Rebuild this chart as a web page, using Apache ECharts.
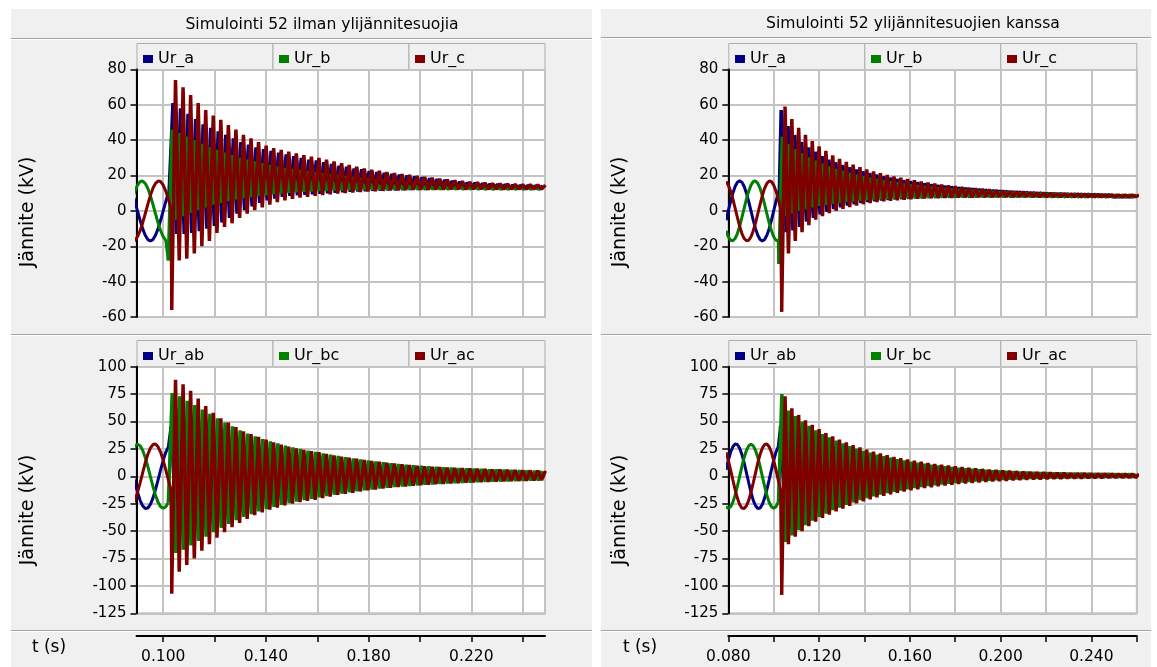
<!DOCTYPE html>
<html>
<head>
<meta charset="utf-8">
<title>Simulointi 52</title>
<script src="https://cdn.jsdelivr.net/npm/echarts@6/dist/echarts.min.js"></script>
<style>
  html, body { margin: 0; padding: 0; background: #fff; }
  #chart { width: 1157px; height: 667px; }
</style>
</head>
<body>
<div id="chart"></div>
<script>
// ---- data (kV) ----
// steady state before the switching, 1 ms samples
var tPre = [0.079, 0.080, 0.081, 0.082, 0.083, 0.084, 0.085, 0.086, 0.087, 0.088, 0.089, 0.090, 0.091,
  0.092, 0.093, 0.094, 0.095, 0.096, 0.097, 0.098, 0.099, 0.100, 0.101, 0.102, 0.103, 0.104];
var preUa = [-5.3, 0, 5.3, 10, 13.8, 16.2, 17, 16.2, 13.8, 10, 5.3, 0, -5.3, -10, -13.8, -16.2, -17, -16.2, -13.8, -10, -5.3, 0, 5.3, 10, 13.8, 16.2];
var preUb = [-11.2, -14.6, -16.6, -16.9, -15.6, -12.8, -8.7, -3.7, 1.6, 6.8, 11.2, 14.6, 16.6, 16.9, 15.6, 12.8, 8.7, 3.7, -1.6, -6.8, -11.2, -14.6, -16.6, -16.9, -15.6, -12.8];
var preUc = [16.6, 14.6, 11.2, 6.8, 1.6, -3.7, -8.7, -12.8, -15.6, -16.9, -16.6, -14.6, -11.2, -6.8, -1.6, 3.7, 8.7, 12.8, 15.6, 16.9, 16.6, 14.6, 11.2, 6.8, 1.6, -3.7];
var preUab = [5.9, 14.6, 21.9, 26.9, 29.4, 29, 25.7, 19.9, 12.2, 3.2, -5.9, -14.6, -21.9, -26.9, -29.4, -29, -25.7, -19.9, -12.2, -3.2, 5.9, 14.6, 21.9, 26.9, 29.4, 29];
var preUbc = [-27.8, -29.2, -27.8, -23.7, -17.2, -9.1, 0, 9.1, 17.2, 23.7, 27.8, 29.2, 27.8, 23.7, 17.2, 9.1, 0, -9.1, -17.2, -23.7, -27.8, -29.2, -27.8, -23.7, -17.2, -9.1];
var preUac = [21.9, 14.6, 5.9, -3.2, -12.2, -19.9, -25.7, -29, -29.4, -26.9, -21.9, -14.6, -5.9, 3.2, 12.2, 19.9, 25.7, 29, 29.4, 26.9, 21.9, 14.6, 5.9, -3.2, -12.2, -19.9];

// transient: peaks (hi) and troughs (lo), one per oscillation period
var periodL = 0.00294;
var periodR = 0.0030;

// Simulointi 52 ilman ylijännitesuojia
var lUaHi = [61, 58, 55, 52, 49, 47, 45, 43, 41, 39, 37.5, 36, 35, 34, 33, 32, 31, 30, 29, 28.5, 27.5, 26.5, 25.5, 25, 24, 23.5, 22.5, 22, 21.5, 21, 20.5, 20, 19.5, 19, 18.5, 18, 17.5, 17, 16.5, 16, 15.8, 15.5, 15.2, 15, 14.8, 14.6, 14.4, 14.3, 14.2, 14.1];
var lUaLo = [11, -13, -13, -12.5, -11.5, -10, -8.5, -6.5, -4, -1.5, 0.5, 2.5, 4.5, 6, 7, 8, 8.5, 8.8, 9.1, 9.4, 9.7, 10, 10.3, 10.6, 10.8, 11, 11.2, 11.4, 11.5, 11.6, 11.7, 11.8, 11.9, 12, 12, 12.1, 12.1, 12.2, 12.2, 12.2, 12.3, 12.3, 12.3, 12.3, 12.4, 12.4, 12.4, 12.4, 12.4, 12.4];
var lUbHi = [46, 44, 42, 40, 38, 36, 34.5, 33, 31.5, 30, 29, 28, 27, 26, 25, 24.3, 23.6, 23, 22.4, 21.8, 21.2, 20.6, 20, 19.5, 19, 18.5, 18, 17.6, 17.2, 16.8, 16.4, 16.1, 15.8, 15.5, 15.2, 15, 14.8, 14.6, 14.4, 14.2, 14.1, 14, 13.9, 13.8, 13.7, 13.6, 13.5, 13.4, 13.4, 13.3];
var lUbLo = [-28, -5, -3, -1, 0.5, 2, 3.5, 4.5, 5.5, 6.5, 7.2, 7.9, 8.5, 9, 9.5, 9.9, 10.3, 10.6, 10.9, 11.1, 11.3, 11.5, 11.6, 11.7, 11.8, 11.9, 12, 12, 12.1, 12.1, 12.2, 12.2, 12.2, 12.3, 12.3, 12.3, 12.3, 12.3, 12.4, 12.4, 12.4, 12.4, 12.4, 12.4, 12.4, 12.4, 12.4, 12.4, 12.4, 12.4];
var lUcHi = [74, 70, 65.5, 61, 57, 54, 51.5, 48.5, 46, 43, 41, 39, 37, 35.5, 34.5, 33.5, 32.5, 31.5, 30.7, 30, 29, 28, 27, 26, 25, 24, 23.3, 22.7, 22, 21.4, 20.8, 20.3, 19.8, 19.2, 18.7, 18.2, 17.7, 17.2, 16.8, 16.4, 16.1, 15.8, 15.6, 15.4, 15.2, 15, 14.9, 14.8, 14.7, 14.6];
var lUcLo = [-56, -28, -27, -24, -20, -17, -12.5, -9, -7, -4, -1.5, 0.5, 2, 3.5, 5, 6, 6.8, 7.5, 8, 8.5, 9, 9.4, 9.8, 10.1, 10.4, 10.7, 11, 11.2, 11.4, 11.6, 11.7, 11.8, 11.9, 12, 12, 12.1, 12.1, 12.2, 12.2, 12.2, 12.3, 12.3, 12.3, 12.3, 12.3, 12.4, 12.4, 12.4, 12.4, 12.4];
var lUabHi = [45, 20, 17, 15, 13, 11.5, 10, 9, 8, 7, 6.3, 5.6, 5, 4.5, 4, 3.6, 3.3, 3, 2.7, 2.5, 2.3, 2.1, 1.9, 1.8, 1.7, 1.6, 1.5, 1.4, 1.3, 1.2, 1.2, 1.1, 1.1, 1, 1, 1, 1, 1, 1, 1, 1, 1, 1, 1, 1, 1, 1, 1, 1, 1];
var lUabLo = [-15, -13, -11.5, -10, -9, -8, -7, -6, -5.3, -4.6, -4, -3.5, -3, -2.6, -2.3, -2, -1.8, -1.6, -1.4, -1.2, -1, -0.9, -0.8, -0.7, -0.6, -0.5, -0.5, -0.5, -0.5, -0.5, -0.5, -0.5, -0.5, -0.5, -0.5, -0.5, -0.5, -0.5, -0.5, -0.5, -0.5, -0.5, -0.5, -0.5, -0.5, -0.5, -0.5, -0.5, -0.5, -0.5];
var lUbcHi = [76, 73, 69, 65, 61, 57, 53, 49, 45.5, 42, 39, 36.5, 34, 32, 30, 28, 26.5, 25, 23.5, 22.2, 21, 19.7, 18.5, 17.4, 16.4, 15.4, 14.5, 13.6, 12.8, 12, 11.3, 10.6, 10, 9.5, 9, 8.6, 8.2, 7.8, 7.5, 7.2, 6.9, 6.6, 6.3, 6.1, 5.9, 5.6, 5.4, 5.2, 5, 4.8];
var lUbcLo = [-24, -70, -67, -63, -59, -55, -51, -47, -43.5, -40, -37, -34.5, -32, -30, -28, -26, -24.5, -23, -21.7, -20.5, -19.3, -18, -16.8, -15.7, -14.7, -13.7, -12.8, -12, -11.2, -10.5, -9.8, -9.2, -8.7, -8.2, -7.7, -7.3, -6.9, -6.5, -6.2, -5.9, -5.6, -5.3, -5, -4.8, -4.6, -4.4, -4.2, -4, -3.8, -3.6];
var lUacHi = [88, 84, 78, 71, 64, 58, 53, 49, 45, 41, 38.5, 36, 33.5, 31, 29, 27, 25.5, 24, 23, 22, 20.5, 19, 18, 17, 16, 15, 14, 13.2, 12.4, 11.6, 10.9, 10.2, 9.5, 9.1, 8.7, 8.3, 8, 7.7, 7.4, 7.1, 6.8, 6.6, 6.3, 6.1, 5.9, 5.7, 5.5, 5.3, 5.1, 5];
var lUacLo = [-107, -87, -81, -75, -68, -62, -56, -51, -46.5, -42.5, -39, -35.5, -33, -30.5, -28.5, -26.5, -25, -23.5, -22.5, -21.5, -20, -18.5, -17, -16, -15, -13.8, -12.8, -12, -11.2, -10.5, -9.8, -9.2, -8.6, -8.1, -7.6, -7.2, -6.8, -6.4, -6.1, -5.8, -5.5, -5.2, -5, -4.7, -4.5, -4.3, -4.1, -3.9, -3.7, -3.5];

// Simulointi 52 ylijännitesuojien kanssa
var rUaHi = [57, 48, 43, 39, 36, 33.5, 31, 29, 27.5, 26, 24.7, 23.5, 22.4, 21.4, 20.5, 19.6, 18.8, 18.1, 17.4, 16.8, 16.2, 15.6, 15.1, 14.6, 14.2, 13.8, 13.4, 13, 12.7, 12.4, 12.1, 11.8, 11.5, 11.3, 11.1, 10.9, 10.7, 10.5, 10.3, 10.1, 10, 9.9, 9.8, 9.7, 9.6, 9.5, 9.4, 9.3, 9.2, 9.1, 9, 9, 9];
var rUaLo = [12, -12, -11, -9, -6, -4, -2, -0.5, 1, 2, 3, 3.8, 4.5, 5, 5.5, 5.9, 6.2, 6.5, 6.7, 6.9, 7.1, 7.2, 7.3, 7.4, 7.5, 7.6, 7.6, 7.7, 7.7, 7.8, 7.8, 7.8, 7.9, 7.9, 7.9, 7.9, 8, 8, 8, 8, 8, 8, 8, 8, 8, 8, 8, 8, 8, 8, 8, 8, 8];
var rUbHi = [42, 38, 35, 32.5, 30.3, 28.4, 26.7, 25.2, 23.8, 22.6, 21.5, 20.5, 19.6, 18.8, 18, 17.3, 16.7, 16.1, 15.5, 15, 14.5, 14, 13.6, 13.2, 12.8, 12.5, 12.2, 11.9, 11.6, 11.3, 11.1, 10.9, 10.7, 10.5, 10.3, 10.1, 10, 9.9, 9.8, 9.7, 9.6, 9.5, 9.4, 9.3, 9.2, 9.1, 9, 9, 9, 9, 8.9, 8.9, 8.9];
var rUbLo = [-30, -3, -1.5, 0, 1, 2, 2.8, 3.5, 4.1, 4.6, 5.1, 5.5, 5.9, 6.2, 6.5, 6.7, 6.9, 7.1, 7.2, 7.3, 7.4, 7.5, 7.6, 7.7, 7.7, 7.8, 7.8, 7.8, 7.9, 7.9, 7.9, 8, 8, 8, 8, 8, 8, 8, 8, 8, 8, 8, 8, 8, 8, 8, 8, 8, 8, 8, 8, 8, 8];
var rUcHi = [59, 52, 47, 43, 39.5, 36.5, 34, 31.5, 29.5, 27.7, 26.2, 24.8, 23.5, 22.4, 21.4, 20.4, 19.5, 18.7, 18, 17.3, 16.6, 16, 15.4, 14.9, 14.4, 13.9, 13.5, 13.1, 12.7, 12.4, 12.1, 11.8, 11.5, 11.2, 11, 10.8, 10.6, 10.4, 10.2, 10, 9.9, 9.8, 9.7, 9.6, 9.5, 9.4, 9.3, 9.2, 9.1, 9, 9, 9, 9];
var rUcLo = [-57, -24, -17, -12, -8, -5, -3, -1.3, 0, 1.2, 2.2, 3, 3.8, 4.4, 5, 5.4, 5.8, 6.1, 6.4, 6.7, 6.9, 7.1, 7.2, 7.3, 7.4, 7.5, 7.6, 7.7, 7.7, 7.8, 7.8, 7.8, 7.9, 7.9, 7.9, 8, 8, 8, 8, 8, 8, 8, 8, 8, 8, 8, 8, 8, 8, 8, 8, 8, 8];
var rUabHi = [46, 18, 15, 13, 11.5, 10, 9, 8, 7, 6.2, 5.5, 4.9, 4.4, 3.9, 3.5, 3.1, 2.8, 2.5, 2.3, 2.1, 1.9, 1.8, 1.7, 1.6, 1.5, 1.4, 1.3, 1.2, 1.2, 1.1, 1.1, 1, 1, 1, 1, 1, 1, 1, 1, 1, 1, 1, 1, 1, 1, 1, 1, 1, 1, 1, 1, 1, 1];
var rUabLo = [-14, -12, -10.5, -9, -8, -7, -6, -5.2, -4.5, -3.9, -3.4, -3, -2.6, -2.3, -2, -1.8, -1.6, -1.4, -1.2, -1, -0.9, -0.8, -0.7, -0.6, -0.5, -0.5, -0.5, -0.5, -0.5, -0.5, -0.5, -0.5, -0.5, -0.5, -0.5, -0.5, -0.5, -0.5, -0.5, -0.5, -0.5, -0.5, -0.5, -0.5, -0.5, -0.5, -0.5, -0.5, -0.5, -0.5, -0.5, -0.5, -0.5];
var rUbcHi = [75, 60, 55, 50, 46, 42, 38.5, 35.5, 32.5, 30, 27.5, 25.3, 23.3, 21.5, 19.8, 18.3, 16.9, 15.6, 14.4, 13.3, 12.3, 11.4, 10.5, 9.7, 9, 8.3, 7.7, 7.1, 6.6, 6.1, 5.7, 5.3, 4.9, 4.6, 4.3, 4, 3.8, 3.6, 3.4, 3.2, 3, 2.9, 2.8, 2.7, 2.6, 2.5, 2.4, 2.3, 2.2, 2.1, 2, 2, 2];
var rUbcLo = [-24, -60, -54, -49, -44.5, -40.5, -37, -34, -31, -28.5, -26, -23.8, -21.8, -20, -18.3, -16.8, -15.4, -14.1, -12.9, -11.8, -10.8, -9.8, -8.9, -8.1, -7.4, -6.7, -6.1, -5.5, -5, -4.5, -4.1, -3.7, -3.3, -3, -2.7, -2.4, -2.2, -2, -1.8, -1.6, -1.4, -1.3, -1.2, -1.1, -1, -0.9, -0.8, -0.7, -0.6, -0.5, -0.5, -0.5, -0.5];
var rUacHi = [73, 62, 56, 51, 47, 43, 39.5, 36.5, 33.5, 31, 28.5, 26.3, 24.3, 22.5, 20.8, 19.2, 17.8, 16.5, 15.3, 14.2, 13.2, 12.2, 11.3, 10.5, 9.7, 9, 8.3, 7.7, 7.1, 6.6, 6.1, 5.7, 5.3, 4.9, 4.6, 4.3, 4, 3.8, 3.6, 3.4, 3.2, 3, 2.9, 2.8, 2.7, 2.6, 2.5, 2.4, 2.3, 2.2, 2.1, 2, 2];
var rUacLo = [-108, -62, -55, -50, -45.5, -41.5, -38, -35, -32, -29.5, -27, -24.8, -22.8, -21, -19.3, -17.8, -16.4, -15.1, -13.9, -12.8, -11.8, -10.8, -9.9, -9.1, -8.3, -7.6, -7, -6.4, -5.9, -5.4, -5, -4.6, -4.2, -3.9, -3.6, -3.3, -3, -2.8, -2.6, -2.4, -2.2, -2, -1.9, -1.8, -1.7, -1.6, -1.5, -1.4, -1.3, -1.2, -1.1, -1, -1];

var colA = '#000080', colB = '#008000', colC = '#800000';
var FONT = 'DejaVu Sans';

// peaks and troughs after the switch, in time order
function transient(hiStart, hi, loStart, lo, period) {
	var osc = [];
	hi.forEach(function (v, k) { osc.push([hiStart + k * period, v]); });
	lo.forEach(function (v, k) { osc.push([loStart + k * period, v]); });
	osc.sort(function (p, q) { return p[0] - q[0]; });
	return osc;
}

// steady state up to the first transient point
function steady(pre, osc) {
	var pts = [];
	tPre.forEach(function (t, i) {
		if (t < osc[0][0]) pts.push([t, pre[i]]);
	});
	pts.push(osc[0]);
	return pts;
}

function line(name, color, idx, data, width) {
	return {
		name: name, type: 'line', xAxisIndex: idx, yAxisIndex: idx,
		data: data, showSymbol: false, symbol: 'none', color: color,
		lineStyle: { color: color, width: width, join: 'bevel' }, animation: false, clip: true
	};
}

// one phase = steady-state part + transient part
function phase(name, color, idx, pre, hiStart, hi, loStart, lo, period) {
	var osc = transient(hiStart, hi, loStart, lo, period);
	return [
		line(name, color, idx, steady(pre, osc), 3),
		line(name, color, idx, osc, 3.5)
	];
}

var gridL = 136.5, gridR = 728.3, gridW = 408.5;
var topY = 69.5, topH = 247.5, botY = 366.7, botH = 246.6;

function yAx(idx, min, max, step) {
	return {
		type: 'value', gridIndex: idx, min: min, max: max, interval: step,
		axisLine: { show: true, onZero: false, lineStyle: { color: '#000', width: 2 } },
		axisTick: { show: true, length: 6, lineStyle: { color: '#000', width: 1.5 } },
		axisLabel: { color: '#000', fontFamily: FONT, fontSize: 15, margin: 10 },
		splitLine: { show: true, lineStyle: { color: '#c3c3c3', width: 2 } }
	};
}

function xAx(idx, min, max, ticks, labels, shown) {
	return {
		type: 'value', gridIndex: idx, min: min, max: max,
		offset: shown ? 22.7 : 0,
		axisLine: { show: shown, onZero: false, lineStyle: { color: '#000', width: 2 } },
		axisTick: { show: shown, length: 6, customValues: ticks, lineStyle: { color: '#000', width: 1.5 } },
		axisLabel: {
			show: shown, customValues: labels, color: '#000', fontFamily: FONT, fontSize: 15.5, margin: 13,
			formatter: function (v) { return v.toFixed(3); }
		},
		splitLine: { show: true, lineStyle: { color: '#c3c3c3', width: 2 } }
	};
}

var ticksL = [0.10, 0.12, 0.14, 0.16, 0.18, 0.20, 0.22, 0.24];
var labelsL = [0.10, 0.14, 0.18, 0.22];
var ticksR = [0.08, 0.10, 0.12, 0.14, 0.16, 0.18, 0.20, 0.22, 0.24, 0.26];
var labelsR = [0.08, 0.12, 0.16, 0.20, 0.24];

function legendItem(name, left, top) {
	return {
		data: [name], left: left, top: top, padding: 0, itemWidth: 10, itemHeight: 8,
		icon: 'rect', selectedMode: false,
		textStyle: { fontFamily: FONT, fontSize: 16, color: '#000' }
	};
}

function buttons(x0, y0) {
	var out = [];
	for (var i = 0; i < 3; i++) {
		out.push({
			type: 'rect', shape: { x: x0 + i * 136 + 0.5, y: y0 + 0.5, width: 136, height: 26 },
			style: { fill: '#f0f0f0', stroke: '#adadad', lineWidth: 1 }, silent: true
		});
	}
	return out;
}

function hline(x1, x2, y) {
	return [
		{ type: 'line', shape: { x1: x1, y1: y + 0.5, x2: x2, y2: y + 0.5 }, style: { stroke: '#a0a0a0', lineWidth: 1 }, silent: true },
		{ type: 'line', shape: { x1: x1, y1: y + 1.5, x2: x2, y2: y + 1.5 }, style: { stroke: '#ffffff', lineWidth: 1 }, silent: true }
	];
}

function txt(s, x, y, size, rot) {
	return {
		type: 'text', x: x, y: y, rotation: rot || 0, silent: true,
		style: { text: s, fontFamily: FONT, fontSize: size, fill: '#000', align: 'center', verticalAlign: 'middle' }
	};
}

var graphics = [
	{ type: 'rect', z: -10, shape: { x: 11, y: 9, width: 581, height: 658 }, style: { fill: '#f0f0f0' }, silent: true },
	{ type: 'rect', z: -10, shape: { x: 601, y: 9, width: 550, height: 658 }, style: { fill: '#f0f0f0' }, silent: true },
	txt('Simulointi 52 ilman ylijännitesuojia', 322, 25, 15.6),
	txt('Simulointi 52 ylijännitesuojien kanssa', 913, 24, 15.6),
	txt('Jännite (kV)', 28.5, 212, 19, Math.PI / 2),
	txt('Jännite (kV)', 28.5, 510, 19, Math.PI / 2),
	txt('Jännite (kV)', 620, 212, 19, Math.PI / 2),
	txt('Jännite (kV)', 620, 510, 19, Math.PI / 2),
	txt('t (s)', 49, 648, 17),
	txt('t (s)', 640, 648, 17),
	{ type: 'line', shape: { x1: 430, y1: 68, x2: 463, y2: 68 }, style: { stroke: '#000', lineWidth: 1.5 }, silent: true },
	{ type: 'line', shape: { x1: 1022, y1: 68, x2: 1055, y2: 68 }, style: { stroke: '#000', lineWidth: 1.5 }, silent: true },
	{ type: 'line', shape: { x1: 430, y1: 365, x2: 471, y2: 365 }, style: { stroke: '#000', lineWidth: 1.5 }, silent: true },
	{ type: 'line', shape: { x1: 1022, y1: 365, x2: 1063, y2: 365 }, style: { stroke: '#000', lineWidth: 1.5 }, silent: true }
]
	.concat(hline(11, 592, 38), hline(601, 1151, 37))
	.concat(hline(11, 592, 334), hline(601, 1151, 334))
	.concat(hline(11, 592, 630), hline(601, 1151, 630))
	.concat(buttons(gridL, 43), buttons(gridL, 340), buttons(gridR, 43), buttons(gridR, 340));

var option = {
	backgroundColor: '#ffffff',
	animation: false,
	textStyle: { fontFamily: FONT },
	grid: [
		{ left: gridL, top: topY, width: gridW, height: topH },
		{ left: gridL, top: botY, width: gridW, height: botH },
		{ left: gridR, top: topY, width: gridW, height: topH },
		{ left: gridR, top: botY, width: gridW, height: botH }
	].map(function (g) {
		g.show = true; g.backgroundColor = '#ffffff'; g.borderColor = '#c3c3c3'; g.borderWidth = 2;
		g.outerBoundsMode = 'none';
		return g;
	}),
	xAxis: [
		xAx(0, 0.0896, 0.2487, ticksL, labelsL, false),
		xAx(1, 0.0896, 0.2487, ticksL, labelsL, true),
		xAx(2, 0.08, 0.26, ticksR, labelsR, false),
		xAx(3, 0.08, 0.26, ticksR, labelsR, true)
	],
	yAxis: [yAx(0, -60, 80, 20), yAx(1, -125, 100, 25), yAx(2, -60, 80, 20), yAx(3, -125, 100, 25)],
	legend: [
		legendItem('Ur_a', 143, 51), legendItem('Ur_b', 279, 51), legendItem('Ur_c', 415, 51),
		legendItem('Ur_ab', 143, 348), legendItem('Ur_bc', 279, 348), legendItem('Ur_ac', 415, 348),
		legendItem('Ur_a', 735, 51), legendItem('Ur_b', 871, 51), legendItem('Ur_c', 1007, 51),
		legendItem('Ur_ab', 735, 348), legendItem('Ur_bc', 871, 348), legendItem('Ur_ac', 1007, 348)
	],
	graphic: graphics,
	series: [].concat(
		phase('Ur_a', colA, 0, preUa, 0.1038, lUaHi, 0.1023, lUaLo, periodL),
		phase('Ur_b', colB, 0, preUb, 0.1035, lUbHi, 0.1020, lUbLo, periodL),
		phase('Ur_c', colC, 0, preUc, 0.1048, lUcHi, 0.1033, lUcLo, periodL),
		phase('Ur_ab', colA, 1, preUab, 0.1030, lUabHi, 0.1045, lUabLo, periodL),
		phase('Ur_bc', colB, 1, preUbc, 0.1035, lUbcHi, 0.1020, lUbcLo, periodL),
		phase('Ur_ac', colC, 1, preUac, 0.1048, lUacHi, 0.1033, lUacLo, periodL),
		phase('Ur_a', colA, 2, preUa, 0.1033, rUaHi, 0.1025, rUaLo, periodR),
		phase('Ur_b', colB, 2, preUb, 0.1038, rUbHi, 0.1023, rUbLo, periodR),
		phase('Ur_c', colC, 2, preUc, 0.1050, rUcHi, 0.1035, rUcLo, periodR),
		phase('Ur_ab', colA, 3, preUab, 0.1030, rUabHi, 0.1045, rUabLo, periodR),
		phase('Ur_bc', colB, 3, preUbc, 0.1036, rUbcHi, 0.1021, rUbcLo, periodR),
		phase('Ur_ac', colC, 3, preUac, 0.1050, rUacHi, 0.1035, rUacLo, periodR)
	)
};

var chart = echarts.init(document.getElementById('chart'));
chart.setOption(option);
</script>
</body>
</html>
